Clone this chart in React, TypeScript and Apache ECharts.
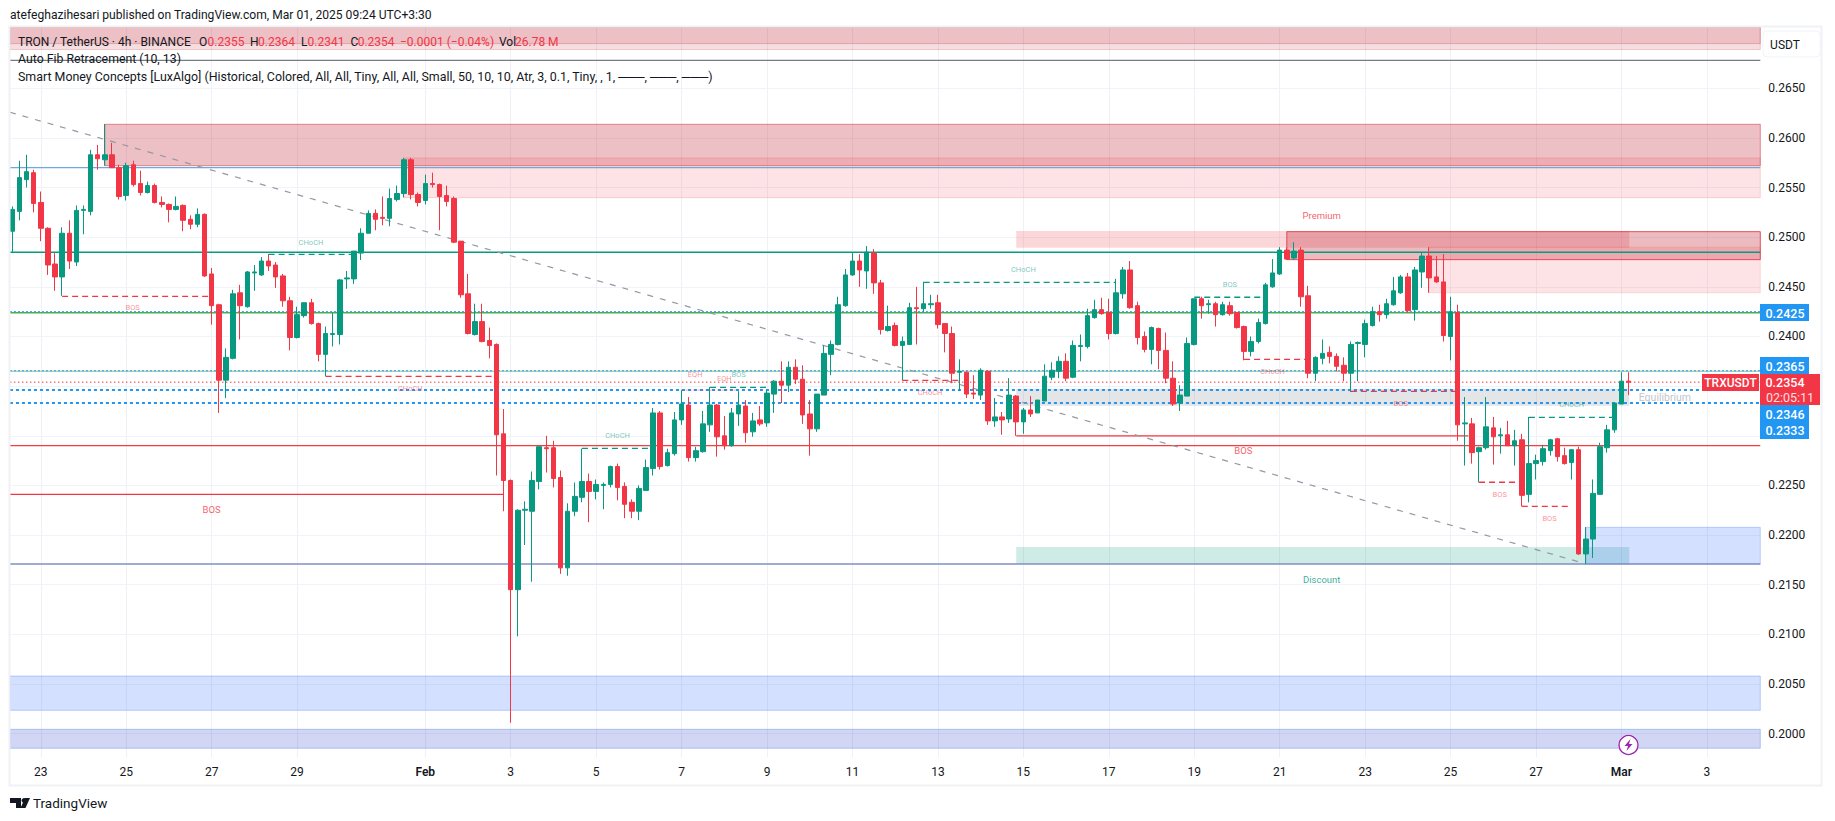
import React, { useEffect, useRef } from "react";
import * as echarts from "echarts";

// OHLC candles, 4h, in units of 0.0001 USDT: open, close, low, high
const ohlc: number[][] = [
[2506,2528,2484,2531],[2526,2560,2517,2577],[2558,2566,2550,2583],[2565,2534,2525,2568],[2535,2509,2496,2546],[2509,2472,2462,2510],
[2473,2460,2446,2484],[2460,2504,2441,2510],[2504,2476,2468,2517],[2475,2527,2471,2532],[2527,2528,2503,2532],[2526,2583,2522,2588],
[2583,2579,2568,2593],[2578,2583,2572,2614],[2583,2570,2570,2595],[2570,2541,2538,2573],[2542,2572,2537,2575],[2573,2553,2551,2577],
[2554,2545,2542,2567],[2545,2552,2544,2556],[2552,2535,2534,2554],[2535,2533,2530,2541],[2533,2528,2515,2534],[2528,2531,2527,2541],
[2532,2517,2506,2533],[2518,2513,2508,2522],[2513,2523,2510,2529],[2523,2461,2460,2524],[2463,2431,2412,2469],[2432,2356,2323,2433],
[2356,2379,2338,2388],[2378,2443,2377,2447],[2444,2431,2397,2452],[2430,2465,2429,2466],[2464,2465,2446,2472],[2462,2476,2461,2480],
[2476,2471,2466,2483],[2472,2460,2449,2475],[2461,2436,2430,2463],[2436,2399,2386,2440],[2399,2422,2398,2430],[2421,2434,2419,2434],
[2434,2413,2412,2438],[2413,2382,2375,2414],[2382,2403,2360,2410],[2402,2403,2390,2424],[2402,2457,2392,2458],[2458,2459,2448,2466],
[2458,2486,2453,2486],[2484,2504,2477,2509],[2504,2524,2504,2527],[2524,2518,2507,2528],[2520,2519,2512,2541],[2519,2539,2511,2549],
[2538,2544,2536,2552],[2544,2578,2540,2580],[2578,2543,2538,2580],[2543,2535,2531,2545],[2537,2554,2533,2563],[2554,2553,2550,2565],
[2553,2541,2507,2554],[2542,2536,2531,2552],[2539,2495,2494,2541],[2496,2442,2439,2496],[2443,2403,2402,2463],[2402,2415,2401,2433],
[2415,2395,2394,2433],[2396,2391,2378,2409],[2392,2301,2260,2393],[2302,2255,2224,2327],[2255,2145,2011,2256],[2145,2225,2098,2226],
[2225,2226,2190,2234],[2224,2255,2153,2264],[2254,2289,2246,2289],[2288,2287,2263,2300],[2288,2257,2248,2295],[2258,2167,2161,2265],
[2167,2224,2159,2232],[2224,2239,2219,2253],[2238,2254,2233,2287],[2254,2244,2213,2262],[2244,2251,2236,2256],[2250,2251,2226,2253],
[2251,2269,2248,2270],[2269,2248,2235,2272],[2249,2231,2217,2253],[2233,2224,2217,2236],[2224,2247,2215,2250],[2245,2268,2245,2276],
[2267,2323,2260,2328],[2323,2269,2266,2325],[2270,2283,2269,2287],[2282,2316,2280,2324],[2316,2332,2311,2346],[2331,2278,2274,2339],
[2278,2285,2274,2289],[2284,2312,2283,2325],[2311,2331,2304,2349],[2331,2299,2279,2332],[2300,2290,2286,2320],[2290,2323,2289,2328],
[2322,2331,2310,2345],[2330,2303,2293,2336],[2304,2315,2299,2323],[2316,2312,2310,2330],[2313,2343,2309,2346],[2342,2355,2323,2356],
[2355,2351,2333,2375],[2351,2369,2344,2375],[2369,2357,2352,2377],[2357,2321,2312,2371],[2322,2307,2280,2336],[2307,2342,2304,2342],
[2341,2383,2341,2391],[2382,2392,2361,2396],[2392,2432,2391,2440],[2431,2462,2430,2468],[2462,2476,2461,2484],[2476,2467,2450,2483],
[2466,2485,2448,2491],[2484,2454,2443,2488],[2454,2407,2402,2457],[2406,2410,2405,2431],[2411,2391,2390,2414],[2391,2395,2356,2400],
[2392,2429,2392,2434],[2429,2428,2392,2450],[2428,2433,2425,2455],[2432,2433,2428,2442],[2434,2412,2408,2442],[2413,2403,2384,2413],
[2403,2363,2353,2410],[2364,2365,2345,2377],[2364,2342,2338,2365],[2343,2342,2337,2361],[2341,2366,2336,2368],[2365,2315,2311,2366],
[2315,2319,2309,2338],[2319,2316,2301,2324],[2317,2341,2313,2358],[2340,2314,2300,2341],[2314,2326,2302,2328],[2326,2322,2319,2340],
[2323,2336,2323,2336],[2335,2360,2335,2372],[2359,2366,2356,2374],[2365,2375,2358,2380],[2375,2358,2355,2383],[2359,2391,2358,2396],
[2390,2391,2375,2402],[2390,2421,2388,2428],[2419,2427,2418,2437],[2427,2423,2422,2439],[2424,2403,2397,2438],[2403,2444,2402,2458],
[2443,2467,2438,2470],[2467,2429,2428,2476],[2431,2399,2392,2435],[2400,2387,2384,2405],[2387,2409,2372,2410],[2408,2386,2367,2409],
[2386,2358,2353,2404],[2358,2332,2330,2375],[2333,2341,2325,2351],[2340,2393,2340,2399],[2392,2438,2391,2438],[2438,2431,2418,2440],
[2432,2433,2423,2437],[2433,2422,2410,2435],[2422,2432,2421,2435],[2431,2423,2421,2435],[2424,2409,2408,2424],[2410,2385,2376,2411],
[2385,2395,2380,2400],[2395,2414,2393,2418],[2413,2452,2412,2454],[2450,2464,2449,2478],[2463,2487,2462,2490],[2487,2478,2477,2490],
[2479,2486,2477,2495],[2487,2440,2430,2490],[2441,2363,2358,2451],[2363,2379,2355,2380],[2378,2383,2372,2397],[2384,2380,2373,2390],
[2380,2370,2365,2383],[2371,2363,2355,2379],[2363,2392,2344,2395],[2393,2394,2355,2395],[2392,2413,2379,2417],[2411,2425,2410,2430],
[2425,2422,2415,2432],[2422,2433,2418,2438],[2432,2446,2431,2460],[2444,2460,2443,2462],[2460,2426,2424,2464],[2427,2467,2416,2470],
[2465,2481,2449,2484],[2481,2459,2444,2490],[2460,2455,2454,2481],[2455,2401,2395,2483],[2400,2425,2376,2440],[2424,2311,2295,2432],
[2312,2313,2270,2339],[2312,2283,2272,2318],[2284,2288,2253,2289],[2288,2309,2286,2339],[2308,2299,2271,2319],[2300,2301,2282,2308],
[2301,2290,2290,2315],[2290,2295,2270,2306],[2296,2240,2229,2302],[2241,2272,2233,2319],[2272,2275,2256,2281],[2274,2287,2270,2291],
[2285,2296,2280,2297],[2297,2279,2274,2298],[2280,2272,2271,2288],[2273,2286,2256,2286],[2286,2181,2180,2289],[2181,2196,2171,2208],
[2196,2242,2177,2256],[2241,2289,2241,2293],[2288,2306,2283,2311],[2306,2333,2303,2333],[2332,2355,2332,2364],[2355,2354,2341,2364],
];

const BAND_COUNT = 246;
const tickBars = [4,16,28,40,58,70,82,94,106,118,130,142,154,166,178,190,202,214,226,238];
const tickLabels = ["23","25","27","29","Feb","3","5","7","9","11","13","15","17","19","21","23","25","27","Mar","3"];
const categories = Array.from({ length: BAND_COUNT }, (_, i) => {
  const k = tickBars.indexOf(i);
  return k >= 0 ? tickLabels[k] : "";
});

// Price grid, and the prices whose labels are not hidden by the price tags
const priceGrid = [0.2, 0.205, 0.21, 0.215, 0.22, 0.225, 0.23, 0.235, 0.24, 0.245, 0.25, 0.255, 0.26, 0.265];
const priceLabels = [0.2, 0.205, 0.21, 0.215, 0.22, 0.225, 0.24, 0.245, 0.25, 0.255, 0.26, 0.265];

const LEFT = -0.33;
const RIGHT = 245.5;
const TOP = 0.27117;

// Filled price zones: first bar, last bar, upper price, lower price
const zoneFrom = [LEFT, LEFT, 13, 55, 141, 179, 199, 141, 141, 221, LEFT, LEFT];
const zoneTo = [RIGHT, RIGHT, RIGHT, RIGHT, 227.1, RIGHT, RIGHT, 227.1, 227.1, RIGHT, RIGHT, RIGHT];
const zoneHigh = [TOP, TOP, 0.26137, 0.25798, 0.25063, 0.25056, 0.2490, 0.23474, 0.2188, 0.22078, 0.2058, 0.20044];
const zoneLow = [0.2689, 0.2695, 0.2572, 0.25398, 0.24894, 0.24774, 0.2444, 0.23303, 0.21709, 0.2171, 0.20235, 0.19853];
const zoneFills = [
  "rgba(190,30,45,0.15)", "rgba(190,30,45,0.15)", "rgba(190,30,45,0.28)", "rgba(242,54,69,0.14)",
  "rgba(242,54,69,0.2)", "rgba(190,30,45,0.3)", "rgba(242,54,69,0.14)", "rgba(120,123,134,0.2)",
  "rgba(8,153,129,0.2)", "rgba(41,98,255,0.2)", "rgba(41,98,255,0.2)", "rgba(41,70,200,0.22)",
];
const zoneStrokes = [
  "rgba(190,30,45,0.2)", "rgba(190,30,45,0.25)", "rgba(210,40,55,0.5)", "rgba(242,54,69,0.18)",
  "transparent", "rgba(225,45,60,0.8)", "rgba(242,54,69,0.15)", "transparent",
  "transparent", "rgba(41,98,255,0.25)", "rgba(41,98,255,0.28)", "rgba(41,98,255,0.3)",
];

// Horizontal levels and structure breaks: price, first bar, last bar
const levelPrice = [0.2678, 0.2570, 0.24848, 0.2424, 0.2425, 0.2365, 0.23655, 0.2354, 0.2346, 0.2333, 0.2290, 0.2171,
  0.2241, 0.2300,
  0.24405, 0.24828, 0.23599, 0.22874, 0.2346, 0.23488, 0.23559, 0.24546, 0.24395, 0.2377, 0.23448, 0.22532, 0.2229, 0.23186];
const levelFrom = [LEFT, LEFT, LEFT, LEFT, LEFT, LEFT, LEFT, LEFT, LEFT, LEFT, LEFT, LEFT,
  LEFT, 141,
  7, 36, 44, 80, 94, 98, 125, 128, 166, 173, 188, 206, 212, 213];
const levelTo = [RIGHT, RIGHT, RIGHT, RIGHT, RIGHT, RIGHT, RIGHT, RIGHT, RIGHT, RIGHT, RIGHT, RIGHT,
  69, 204.5,
  28, 48, 68, 90, 102, 106, 133, 155, 176, 182, 203, 212, 219, 225];
const levelColors = ["#787b86", "#6fa8dc", "#089981", "#4caf50", "#2196f3", "#8fc49a", "#2196f3", "#f23645", "#2196f3", "#2196f3", "#ef3f3f", "#7f8fc4",
  "#f23645", "#f23645",
  "#f23645", "#089981", "#f23645", "#089981", "rgba(242,54,69,0.45)", "#089981", "#f23645", "#089981", "#089981", "#f23645", "#f23645", "#f23645", "#f23645", "#089981"];
const levelWidths = [1.2, 1.3, 1.5, 1.5, 1, 1.2, 1, 1, 2, 2, 1.3, 1.5, 1.3, 1.3, 1.3, 1.3, 1.3, 1.3, 1, 1.3, 1.3, 1.3, 1.3, 1.3, 1.3, 1.3, 1.3, 1.3];
const DASH = [6, 4];
const levelDashes: any[] = ["solid", "solid", "solid", "solid", [2, 2], "solid", [2, 2], [1.5, 2.5], [3, 3], [3, 3], "solid", "solid",
  "solid", "solid",
  DASH, DASH, DASH, DASH, [2, 2], DASH, DASH, DASH, DASH, DASH, DASH, DASH, DASH, DASH];

// The retracement trend line: bar, price
const trendLine = [[-0.33, 0.26258], [220.7, 0.21716]];

// Text marks: bar, price, text
const markBars = [16.9, 41.95, 55.9, 85, 95.9, 100, 102, 128.9, 142, 171, 177, 195, 208.9, 215.9, 219, 28, 172.9, 183.9, 183.9, 232.1];
const markPrices = [0.24294, 0.24945, 0.23479, 0.23001, 0.23619, 0.23579, 0.23619, 0.23434, 0.24677, 0.24526, 0.2365, 0.23328, 0.2241, 0.22169, 0.23317, 0.22256, 0.2285, 0.25217, 0.21551, 0.23384];
const markTexts = ["BOS", "CHoCH", "CHoCH", "CHoCH", "EQH", "EQH", "BOS", "CHoCH", "CHoCH", "BOS", "CHoCH", "BOS", "BOS", "BOS", "CHoCH", "BOS", "BOS", "Premium", "Discount", "Equilibrium"];
const markColors = ["r", "g", "r", "g", "r", "r", "g", "r", "g", "g", "r", "r", "r", "r", "g", "R", "R", "R", "G", "E"];
const markFonts: Record<string, [string, number]> = {
  r: ["rgba(242,54,69,0.7)", 7.5], g: ["rgba(8,153,129,0.7)", 7.5],
  R: ["#f23645", 9.5], G: ["#089981", 9.5], E: ["#b2b5be", 10.5],
};

const FONT = "Roboto, 'Noto Sans', sans-serif";
const INK = "#131722";
const RED = "#f23645";
const BLUE = "#2196f3";
const AXIS_W = 1760.3 - 8.74;

const t = (x: number, y: number, text: string, fill: string, size = 12, align = "left", weight = 400) => ({
  type: "text", x, y, z: 100, silent: true,
  style: { text, fill, font: `${weight} ${size}px ${FONT}`, textAlign: align, textVerticalAlign: "middle" },
});
const pill = (x: number, y: number, w: number, h: number, fill: string) => ({
  type: "rect", z: 90, silent: true, shape: { x, y, width: w, height: h }, style: { fill },
});

export default function App() {
  const ref = useRef<HTMLDivElement>(null);
  useEffect(() => {
    document.body.style.margin = "0";
    const chart = echarts.init(ref.current!, null, { renderer: "svg" });
    const option: any = {
      animation: false,
      backgroundColor: "#ffffff",
      textStyle: { fontFamily: FONT },
      grid: { left: 8.74, top: 27, width: AXIS_W, height: 730, containLabel: false },
      xAxis: [
        {
          type: "category", data: categories, boundaryGap: true,
          axisLine: { show: false }, axisTick: { show: false },
          axisLabel: {
            interval: (_: number, v: string) => v !== "", margin: 9, fontSize: 12, color: INK, fontFamily: FONT,
            hideOverlap: false,
            formatter: (v: string) => (v === "Feb" || v === "Mar" ? `{b|${v}}` : v),
            rich: { b: { fontWeight: 600, fontSize: 12, color: INK, fontFamily: FONT } },
          },
          splitLine: { show: true, interval: (_: number, v: string) => v !== "", alignWithLabel: true, lineStyle: { color: "#eff1f5", width: 1 } },
        },
        { type: "value", min: -0.5, max: 245.5, show: false, splitLine: { show: false } },
      ],
      yAxis: {
        type: "value", position: "right", min: 0.19765, max: TOP, scale: true,
        axisLine: { show: false }, axisTick: { show: false, customValues: priceGrid },
        axisLabel: { margin: 8, fontSize: 12, color: INK, fontFamily: FONT, customValues: priceLabels, formatter: (v: number) => v.toFixed(4) },
        splitLine: { lineStyle: { color: "#f0f3fa", width: 1 } },
      },
      series: [
        {
          type: "custom", name: "zones", xAxisIndex: 1, yAxisIndex: 0, z: 1, silent: true, clip: true,
          encode: { x: [0, 1], y: [2, 3] },
          data: zoneFrom.map((f, i) => [f, zoneTo[i], zoneHigh[i], zoneLow[i]]),
          renderItem: (p: any, api: any) => {
            const a = api.coord([api.value(0), api.value(2)]);
            const b = api.coord([api.value(1), api.value(3)]);
            return {
              type: "rect",
              shape: { x: a[0], y: a[1], width: b[0] - a[0], height: b[1] - a[1] },
              style: { fill: zoneFills[p.dataIndex], stroke: zoneStrokes[p.dataIndex], lineWidth: 1 },
            };
          },
        },
        ...levelPrice.map((v, i) => ({
          type: "line", xAxisIndex: 1, yAxisIndex: 0, z: 2, silent: true, showSymbol: false, symbol: "none",
          data: [[levelFrom[i], v], [levelTo[i], v]],
          lineStyle: { color: levelColors[i], width: levelWidths[i], type: levelDashes[i] },
        })),
        {
          type: "line", xAxisIndex: 1, yAxisIndex: 0, z: 2, silent: true, showSymbol: false, symbol: "none",
          data: trendLine, lineStyle: { color: "#9598a1", width: 1.2, type: [6, 7] },
        },
        {
          type: "candlestick", name: "TRXUSDT", xAxisIndex: 0, yAxisIndex: 0, z: 3, silent: true,
          barWidth: 5,
          data: ohlc.map((r) => r.map((v) => v / 10000)),
          itemStyle: { color: "#089981", color0: RED, borderColor: "#089981", borderColor0: RED, borderWidth: 1 },
        },
        {
          type: "scatter", xAxisIndex: 1, yAxisIndex: 0, z: 4, silent: true, symbolSize: 1,
          itemStyle: { color: "transparent" },
          data: markBars.map((b, i) => ({
            name: markTexts[i], value: [b, markPrices[i]],
            label: {
              show: true, position: "inside", formatter: "{b}", fontFamily: FONT,
              color: markFonts[markColors[i]][0], fontSize: markFonts[markColors[i]][1],
            },
          })),
        },
      ],
      graphic: [
        { type: "rect", z: 80, silent: true, shape: { x: 9.5, y: 26.5, width: 1812, height: 759 }, style: { fill: "transparent", stroke: "#eff1f5", lineWidth: 2 } },
        t(10, 15, "atefeghazihesari published on TradingView.com, Mar 01, 2025 09:24 UTC+3:30", INK, 12.1),
        t(18, 42, "TRON / TetherUS · 4h · BINANCE", INK, 12),
        t(199, 42, "O", INK), t(207.5, 42, "0.2355", RED),
        t(250, 42, "H", INK), t(258, 42, "0.2364", RED),
        t(301, 42, "L", INK), t(307.5, 42, "0.2341", RED),
        t(350.6, 42, "C", INK), t(357.7, 42, "0.2354", RED),
        t(400, 42, "−0.0001 (−0.04%)", RED),
        t(499, 42, "Vol", INK), t(515, 42, "26.78 M", RED),
        t(18, 59, "Auto Fib Retracement (10, 13)", INK, 12.3),
        t(18, 76, "Smart Money Concepts [LuxAlgo] (Historical, Colored, All, All, Tiny, All, All, Small, 50, 10, 10, Atr, 3, 0.1, Tiny, , 1, ───, ───, ───)", INK, 12.4),
        { type: "rect", z: 90, silent: true, shape: { x: 1763, y: 31, width: 57, height: 26, r: 4 }, style: { fill: "#ffffff", stroke: "#f0f3fa", lineWidth: 1 } },
        t(1785, 44.5, "USDT", INK, 12, "center"),
        pill(1760, 304, 49, 17, BLUE), t(1785, 313, "0.2425", "#ffffff", 12.5, "center", 500),
        pill(1760, 357, 49, 17, BLUE), t(1785, 366, "0.2365", "#ffffff", 12.5, "center", 500),
        pill(1702, 374, 57, 17, RED), t(1730.5, 382.5, "TRXUSDT", "#ffffff", 12, "center", 500),
        pill(1760, 374, 60, 31, RED),
        t(1785, 382.5, "0.2354", "#ffffff", 12.5, "center", 500),
        t(1790, 397, "02:05:11", "rgba(255,255,255,0.85)", 12.5, "center", 400),
        pill(1760, 405, 49, 34, BLUE),
        t(1785, 414, "0.2346", "#ffffff", 12.5, "center", 500),
        t(1785, 430.5, "0.2333", "#ffffff", 12.5, "center", 500),
        { type: "circle", z: 90, silent: true, shape: { cx: 1628.5, cy: 745, r: 9.5 }, style: { fill: "#ffffff", stroke: "#ffffff", lineWidth: 2 } },
        { type: "circle", z: 91, silent: true, shape: { cx: 1628.5, cy: 745, r: 9.5 }, style: { fill: "#ffffff", stroke: "#9c27b0", lineWidth: 1.4 } },
        { type: "polygon", z: 92, silent: true, shape: { points: [[1630.5, 739], [1624.5, 746], [1628, 746], [1626.5, 751], [1632.5, 744], [1629, 744]] }, style: { fill: "#9c27b0" } },
        { type: "polygon", z: 92, silent: true, shape: { points: [[10, 798], [21, 798], [21, 808], [16, 808], [16, 803], [10, 803]] }, style: { fill: INK } },
        { type: "circle", z: 92, silent: true, shape: { cx: 24, cy: 800.5, r: 2.4 }, style: { fill: INK } },
        { type: "polygon", z: 92, silent: true, shape: { points: [[25, 798], [30, 798], [25.5, 808], [20.5, 808]] }, style: { fill: INK } },
        t(33, 803, "TradingView", INK, 13.5),
      ],
    };
    chart.setOption(option);
    return () => chart.dispose();
  }, []);
  return <div ref={ref} style={{ width: 1835, height: 821 }} />;
}
